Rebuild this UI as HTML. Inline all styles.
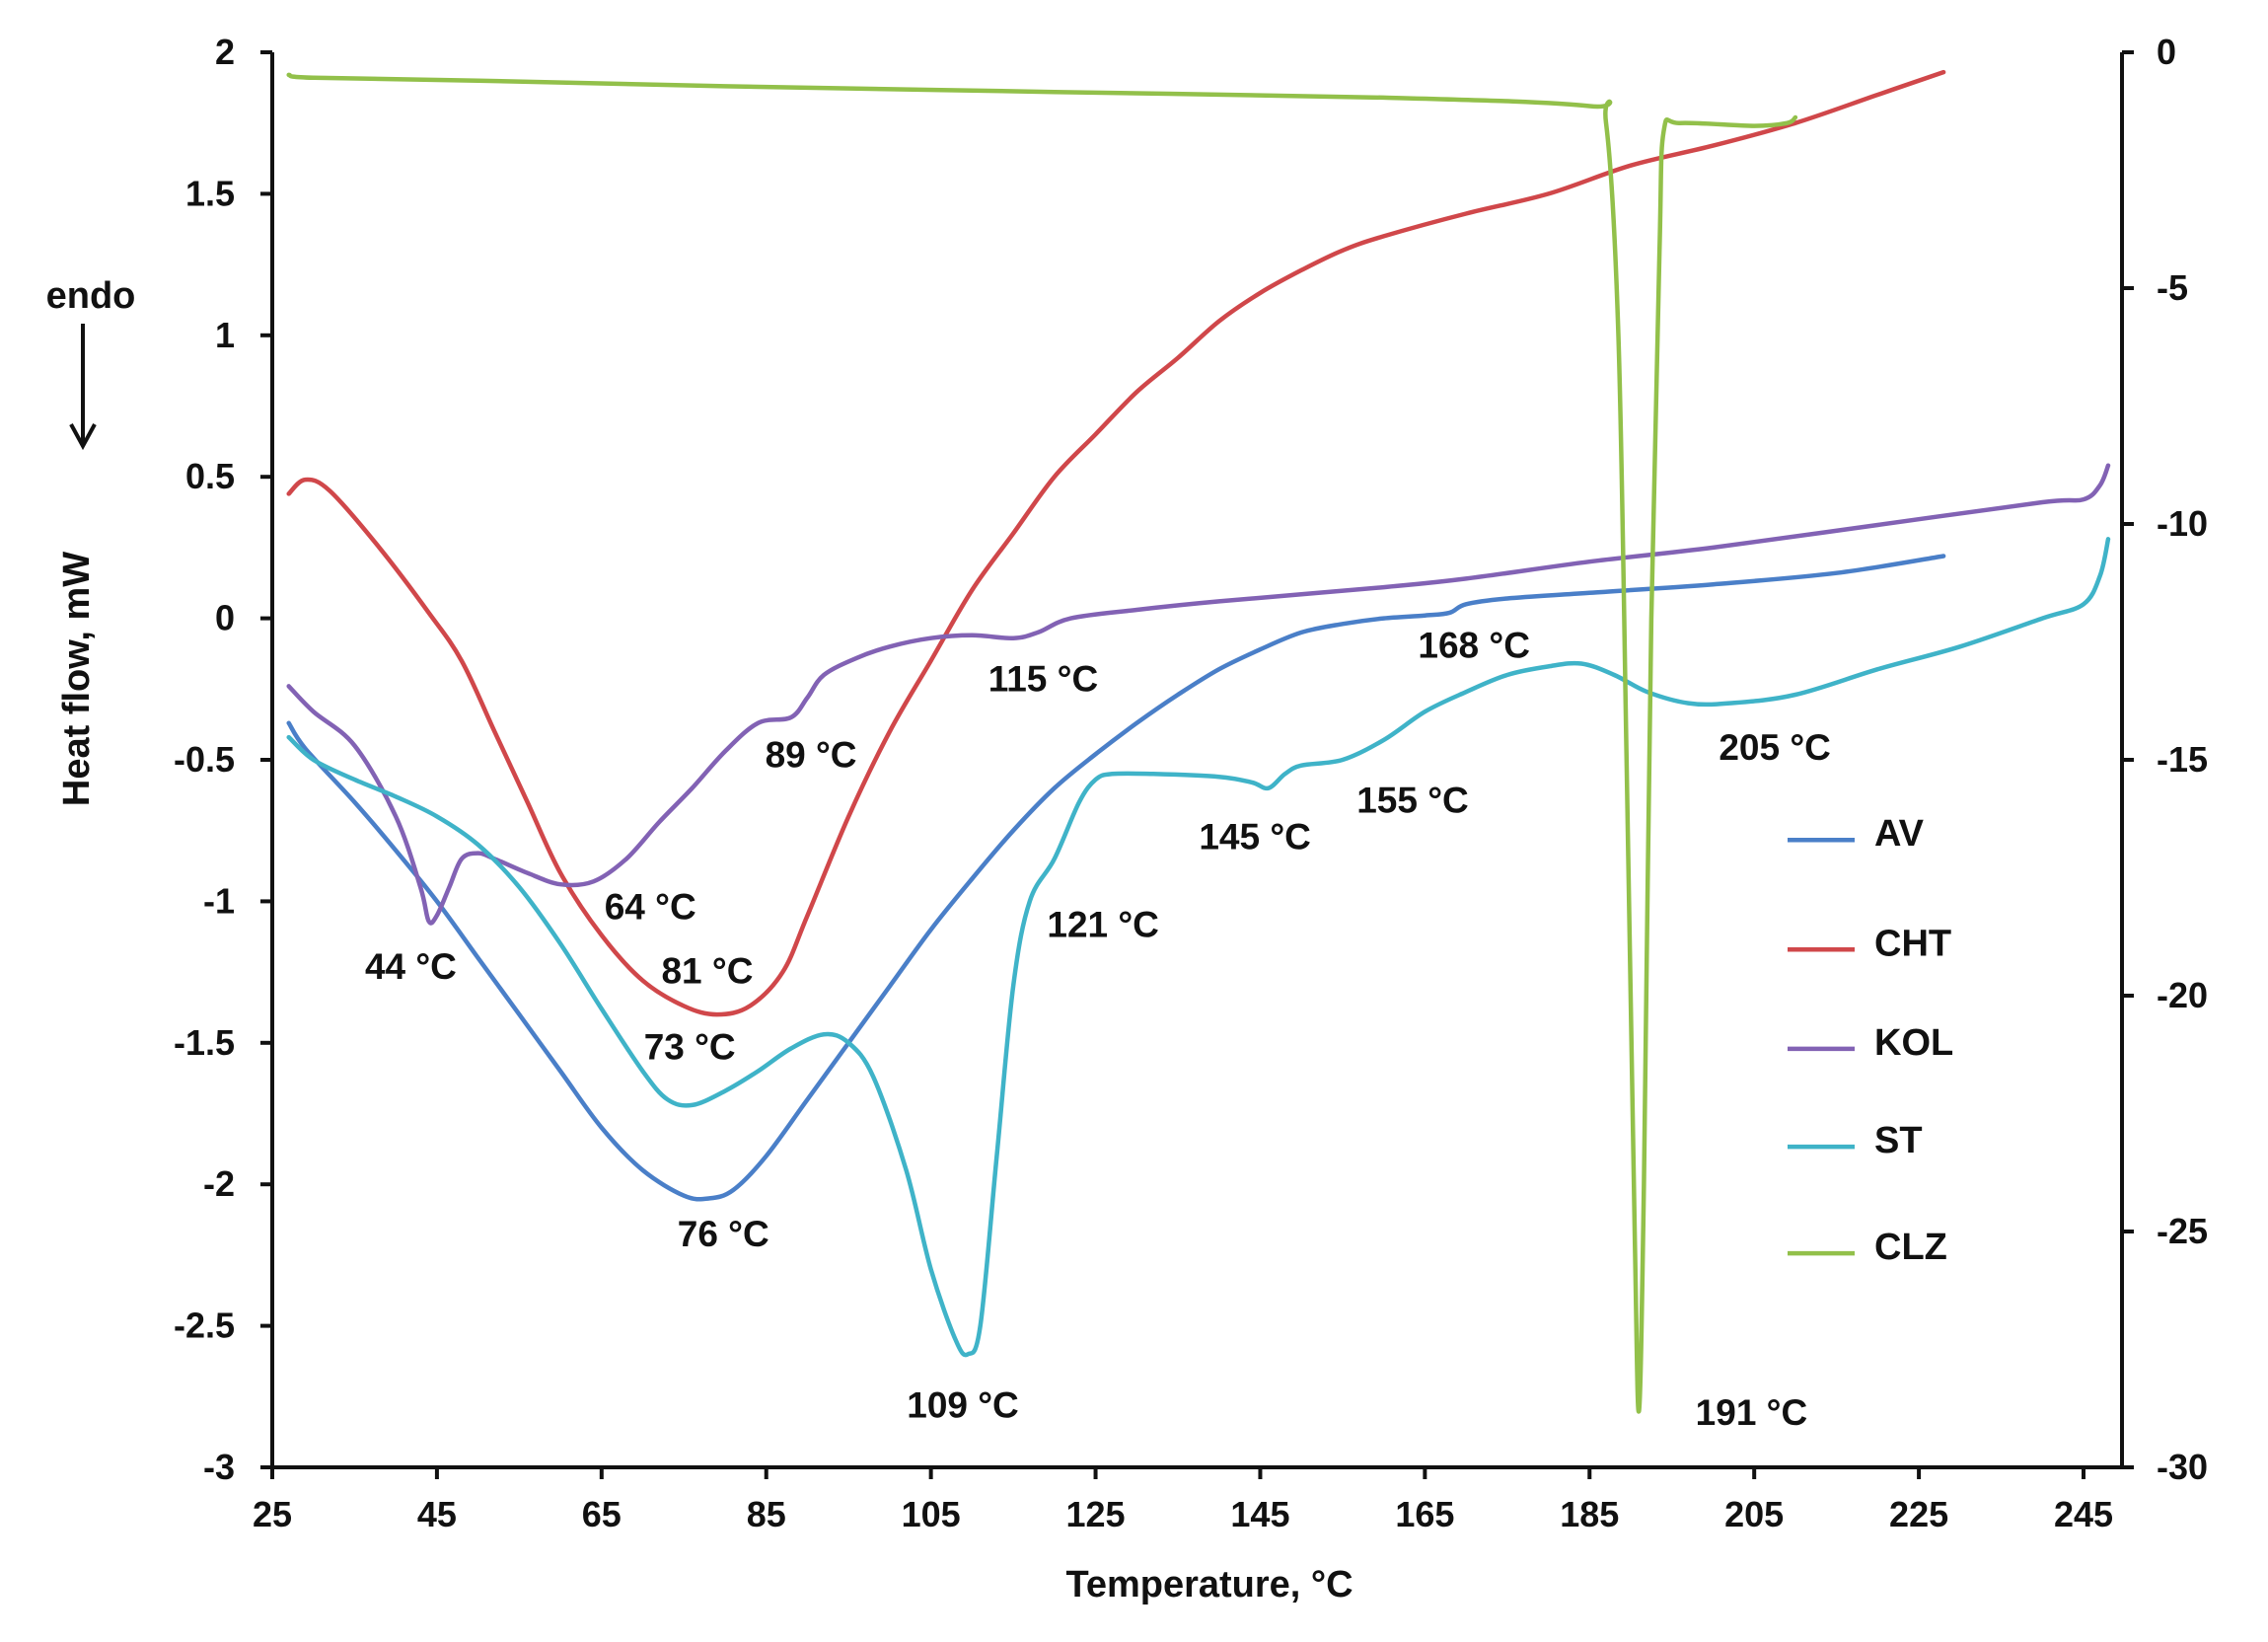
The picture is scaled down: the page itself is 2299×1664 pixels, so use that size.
<!DOCTYPE html>
<html><head><meta charset="utf-8"><style>
html,body{margin:0;padding:0;background:#fff;}
svg{display:block;font-family:"Liberation Sans",Arial,sans-serif;font-weight:bold;}
</style></head><body>
<svg id="chart" width="2299" height="1664" viewBox="0 0 2299 1664" xmlns="http://www.w3.org/2000/svg">
<g id="axes"></g>
<g id="series"></g>
<g id="annots"></g>
<g id="legend"></g>
</svg>
<script>
const xTicks=[25,45,65,85,105,125,145,165,185,205,225,245];
const yTicks=[2,1.5,1,0.5,0,-0.5,-1,-1.5,-2,-2.5,-3];
const yTickLabels=["2","1.5","1","0.5","0","-0.5","-1","-1.5","-2","-2.5","-3"];
const y2Ticks=[0,-5,-10,-15,-20,-25,-30];
const seriesNames=["AV","CHT","KOL","ST","CLZ"];
const seriesColors=["#4a7fc8","#d0474a","#8262b4","#3fb3c8","#92c04a"];
const avT=[27,29,35,40,45,50,55,60,65,70,75,78,81,85,90,95,100,105,110,115,120,125,130,135,140,145,150,155,160,165,168,170,175,185,200,215,228];
const avV=[-0.37,-0.46,-0.65,-0.82,-1.0,-1.2,-1.4,-1.6,-1.8,-1.95,-2.04,-2.05,-2.02,-1.9,-1.7,-1.5,-1.3,-1.1,-0.92,-0.75,-0.6,-0.48,-0.37,-0.27,-0.18,-0.11,-0.05,-0.02,0,0.01,0.02,0.05,0.07,0.09,0.12,0.16,0.22];
const chtT=[27,29,32,38,44,48,52,56,60,65,70,75,79,83,87,90,95,100,105,110,115,120,125,130,135,140,145,150,155,160,170,180,190,200,210,220,228];
const chtV=[0.44,0.49,0.45,0.25,0.02,-0.15,-0.4,-0.65,-0.9,-1.12,-1.28,-1.37,-1.4,-1.37,-1.25,-1.05,-0.7,-0.4,-0.15,0.1,0.3,0.5,0.65,0.8,0.92,1.05,1.15,1.23,1.3,1.35,1.43,1.5,1.6,1.67,1.75,1.85,1.93];
const kolT=[27,30,35,40,43,44,45,46.5,48,50,52,56,60,64,68,72,76,80,84,88,90,92,96,100,105,110,115,118,122,130,140,160,170,185,200,220,240,245,247,248];
const kolV=[-0.24,-0.33,-0.45,-0.7,-0.95,-1.07,-1.05,-0.95,-0.85,-0.83,-0.85,-0.9,-0.94,-0.93,-0.85,-0.72,-0.6,-0.47,-0.37,-0.35,-0.28,-0.2,-0.14,-0.1,-0.07,-0.06,-0.07,-0.05,0,0.03,0.06,0.11,0.14,0.2,0.25,0.33,0.41,0.42,0.47,0.54];
const stT=[27,30,35,40,45,50,55,60,65,70,73,76,80,84,88,92,95,98,102,105,108,109.5,111,113,115,117,120,123,125,127,132,140,144,146,148,150,155,160,165,170,175,180,184,188,192,197,202,210,220,230,240,245,247,248];
const stV=[-0.42,-0.5,-0.57,-0.63,-0.7,-0.8,-0.95,-1.15,-1.38,-1.6,-1.7,-1.72,-1.67,-1.6,-1.52,-1.47,-1.5,-1.62,-1.95,-2.3,-2.55,-2.6,-2.5,-1.9,-1.3,-1.0,-0.85,-0.65,-0.57,-0.55,-0.55,-0.56,-0.58,-0.6,-0.55,-0.52,-0.5,-0.43,-0.33,-0.26,-0.2,-0.17,-0.16,-0.2,-0.26,-0.3,-0.3,-0.27,-0.18,-0.1,0.0,0.05,0.15,0.28];
const clzT=[27,30,50,80,120,160,185,187,188.5,189.5,190.5,191,191.6,192.5,193.5,194,196,205,209,210];
const clzV=[1.92,1.91,1.9,1.88,1.86,1.84,1.81,1.75,1.0,-0.5,-2.2,-2.8,-2.0,0,1.3,1.72,1.75,1.74,1.75,1.77];

const NS="http://www.w3.org/2000/svg";
const X=t=>276+(t-25)*8.3455;
const Y=v=>53+(2-v)*286.8;
const Y2=r=>53-r*47.8;
function mk(tag,parent,attrs){const e=document.createElementNS(NS,tag);for(const k in attrs)e.setAttribute(k,attrs[k]);parent.appendChild(e);return e;}
const axes=document.getElementById('axes');
let e;
e=mk('line',axes,{x1:276,y1:53,x2:276,y2:1487,stroke:'#111','stroke-width':4});


e=mk('line',axes,{x1:276,y1:1487,x2:2151,y2:1487,stroke:'#111','stroke-width':4});


e=mk('line',axes,{x1:2151,y1:53,x2:2151,y2:1487,stroke:'#111','stroke-width':4});


xTicks.forEach(t=>{
  mk('line',axes,{x1:X(t),y1:1487,x2:X(t),y2:1499,stroke:'#111','stroke-width':4});
  e=mk('text',axes,{x:X(t),y:1547,'text-anchor':'middle','font-size':36,fill:'#111'});e.textContent=t;
  
  
});
yTicks.forEach((v,i)=>{
  mk('line',axes,{x1:264,y1:Y(v),x2:276,y2:Y(v),stroke:'#111','stroke-width':4});
  e=mk('text',axes,{x:238,y:Y(v)+12,'text-anchor':'end','font-size':36,fill:'#111'});e.textContent=yTickLabels[i];
  
  
});
y2Ticks.forEach(r=>{
  mk('line',axes,{x1:2151,y1:Y2(r),x2:2163,y2:Y2(r),stroke:'#111','stroke-width':4});
  e=mk('text',axes,{x:2186,y:Y2(r)+12,'text-anchor':'start','font-size':36,fill:'#111'});e.textContent=r;
  
  
});
e=mk('text',axes,{x:1226,y:1618,'text-anchor':'middle','font-size':38,fill:'#111'});e.textContent='Temperature, °C';


e=mk('text',axes,{x:0,y:0,'text-anchor':'middle','font-size':38,fill:'#111',transform:'translate(90,688) rotate(-90)'});e.textContent='Heat flow, mW';


e=mk('text',axes,{x:92,y:312,'text-anchor':'middle','font-size':38,fill:'#111'});e.textContent='endo';


e=mk('path',axes,{d:'M84 328 L84 450 M72 430 L84 452 L96 430',stroke:'#111','stroke-width':4,fill:'none'});



function smoothPath(ts,vs){
  const p=ts.map((t,i)=>[X(t),Y(vs[i])]);
  let d='M'+p[0][0].toFixed(1)+' '+p[0][1].toFixed(1);
  for(let i=0;i<p.length-1;i++){
    const p0=p[i-1]||p[i],p1=p[i],p2=p[i+1],p3=p[i+2]||p2;
    const c1=[p1[0]+(p2[0]-p0[0])/6,p1[1]+(p2[1]-p0[1])/6];
    const c2=[p2[0]-(p3[0]-p1[0])/6,p2[1]-(p3[1]-p1[1])/6];
    d+=' C'+c1.map(n=>n.toFixed(1)).join(' ')+' '+c2.map(n=>n.toFixed(1)).join(' ')+' '+p2[0].toFixed(1)+' '+p2[1].toFixed(1);
  }
  return d;
}
const sg=document.getElementById('series');
const data=[[avT,avV],[chtT,chtV],[kolT,kolV],[stT,stV],[clzT,clzV]];
data.forEach((s,i)=>{
  e=mk('path',sg,{d:smoothPath(s[0],s[1]),stroke:seriesColors[i],'stroke-width':4.5,fill:'none','stroke-linejoin':'round','stroke-linecap':'round'});
  
  
});
const annText=["44 °C","64 °C","81 °C","73 °C","76 °C","89 °C","109 °C","115 °C","121 °C","145 °C","155 °C","168 °C","205 °C","191 °C"];
const annPos=[[284,677],[448,636],[487,680],[475,732],[498,860],[558,532],[662,977],[717,480],[758,648],[862,588],[970,563],[1012,457],[1218,527],[1202,982]];
const ag=document.getElementById('annots');
annText.forEach((s,i)=>{
  e=mk('text',ag,{x:annPos[i][0]*1.4804-4,y:annPos[i][1]*1.4804-10,'text-anchor':'middle','font-size':37,fill:'#111'});e.textContent=s;
  
  
});
const lg=document.getElementById('legend');
const legY=[575,650,718,785,858];
seriesNames.forEach((n,i)=>{
  const y=legY[i]*1.4804;
  e=mk('line',lg,{x1:1812,y1:y,x2:1880,y2:y,stroke:seriesColors[i],'stroke-width':4.5});
  
  
  e=mk('text',lg,{x:1900,y:y+6,'font-size':38,fill:'#111'});e.textContent=n;
  
  
});
</script>
</body></html>
